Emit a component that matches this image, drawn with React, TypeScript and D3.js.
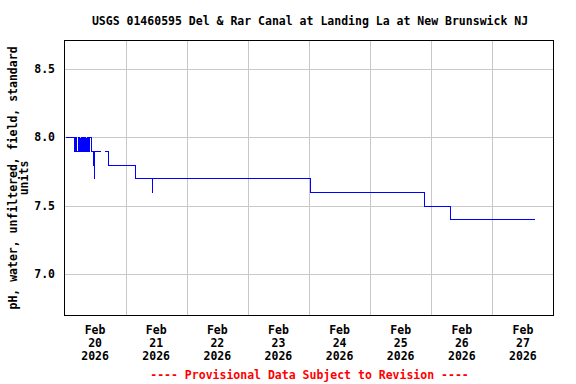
import React from "react";
import * as d3 from "d3";

const TITLE = "USGS 01460595 Del & Rar Canal at Landing La at New Brunswick NJ";
const Y_LABEL_LINES = ["pH, water, unfiltered, field, standard", "units"];
const FOOTER = "---- Provisional Data Subject to Revision ----";

const Y_TICKS = [7.0, 7.5, 8.0, 8.5];
const X_LABEL_DAYS = ["2026-02-20", "2026-02-21", "2026-02-22", "2026-02-23", "2026-02-24", "2026-02-25", "2026-02-26", "2026-02-27"];
const X_DOMAIN = ["2026-02-20T00:00", "2026-02-28T00:00"];
const Y_DOMAIN = [6.7, 8.705];

// observation times and pH values; null = gap
const OBS_TIMES = [
  "2026-02-20T00:00", "2026-02-20T03:45", "2026-02-20T04:15", "2026-02-20T04:30",
  "2026-02-20T05:15", "2026-02-20T05:30", "2026-02-20T06:00", "2026-02-20T06:15",
  "2026-02-20T06:30", "2026-02-20T06:45", "2026-02-20T07:00", "2026-02-20T07:15",
  "2026-02-20T07:45", "2026-02-20T08:00", "2026-02-20T08:15", "2026-02-20T08:30",
  "2026-02-20T09:00", "2026-02-20T09:15", "2026-02-20T09:30", "2026-02-20T10:30",
  "2026-02-20T11:15", "2026-02-20T11:30", "2026-02-20T11:45", "2026-02-20T14:00",
  "2026-02-20T14:15", "2026-02-20T15:30", "2026-02-20T17:15", "2026-02-21T03:30",
  "2026-02-21T10:15", "2026-02-21T10:30", "2026-02-24T00:15", "2026-02-25T21:00",
  "2026-02-26T07:15", "2026-02-27T16:15",
];
const PH_VALUES: (number | null)[] = [
  8.0, 7.9, 8.0, 7.9,
  8.0, 7.9, 8.0, 7.9,
  8.0, 7.9, 8.0, 7.9,
  8.0, 7.9, 8.0, 7.9,
  8.0, 7.9, 8.0, 7.9,
  7.8, 7.7, 7.9, 7.9,
  null, 7.9, 7.8, 7.7,
  7.6, 7.7, 7.6, 7.5,
  7.4, 7.4,
];

const W = 576;
const H = 384;
const PLOT = { left: 64.5, right: 553.5, top: 40.5, bottom: 315.5 };
const FONT = "'DejaVu Sans Mono', monospace";
const FS = 11.5;

const parse = (s: string) => {
  const [d, t] = s.split("T");
  const [yy, mm, dd] = d.split("-").map(Number);
  const [hh, mi] = (t || "00:00").split(":").map(Number);
  return new Date(Date.UTC(yy, mm - 1, dd, hh, mi));
};

export default function App() {
  const x = d3.scaleUtc().domain(X_DOMAIN.map(parse)).range([PLOT.left, PLOT.right]);
  const y = d3.scaleLinear().domain(Y_DOMAIN).range([PLOT.bottom, PLOT.top]);

  const data = OBS_TIMES.map((t, i) => ({ t: parse(t), v: PH_VALUES[i] }));
  const line = d3
    .line<{ t: Date; v: number | null }>()
    .defined((d) => d.v != null)
    .x((d) => Math.round(x(d.t)) + 0.5)
    .y((d) => Math.round(y(d.v as number)) + 0.5)
    .curve(d3.curveStepAfter);

  const dayGrid = d3.utcDay.range(d3.utcDay.offset(x.domain()[0], 1), x.domain()[1]);
  const fmt = d3.utcFormat("%b|%d|%Y");

  const cx = (PLOT.left + PLOT.right) / 2;
  const cy = (PLOT.top + PLOT.bottom) / 2;

  return (
    <svg
      width={W}
      height={H}
      style={{ position: "absolute", left: 0, top: 0, background: "#fff" }}
      fontFamily={FONT}
      fontWeight="bold"
      fontSize={FS}
    >
      <rect x={0} y={0} width={W} height={H} fill="#fff" />
      <text x={310} y={25} textAnchor="middle" fill="#000">{TITLE}</text>

      {/* grid */}
      <g shapeRendering="crispEdges">
        {Y_TICKS.map((v) => (
          <line key={"hy" + v} x1={PLOT.left} x2={PLOT.right} y1={Math.round(y(v)) + 0.5} y2={Math.round(y(v)) + 0.5} stroke="#c8c8c8" strokeWidth={1} />
        ))}
        {dayGrid.map((d) => (
          <line key={"vx" + d.getTime()} x1={Math.round(x(d)) + 0.5} x2={Math.round(x(d)) + 0.5} y1={PLOT.top} y2={PLOT.bottom} stroke="#c8c8c8" strokeWidth={1} />
        ))}
      </g>

      {/* data */}
      <path d={line(data) || ""} fill="none" stroke="#0000ff" strokeWidth={1} shapeRendering="crispEdges" />

      {/* frame */}
      <rect x={PLOT.left} y={PLOT.top} width={PLOT.right - PLOT.left} height={PLOT.bottom - PLOT.top} fill="none" stroke="#000" strokeWidth={1} shapeRendering="crispEdges" />

      {/* y tick labels */}
      {Y_TICKS.map((v) => (
        <text key={"ty" + v} x={55} y={y(v) + 4} textAnchor="end" fill="#000">{v.toFixed(1)}</text>
      ))}

      {/* x labels */}
      {X_LABEL_DAYS.map((s) => {
        const d = parse(s);
        const mid = x(d3.utcHour.offset(d, 12));
        const parts = fmt(d).split("|");
        return (
          <g key={"tx" + s}>
            {parts.map((p, i) => (
              <text key={i} x={mid} y={334 + i * 13} textAnchor="middle" fill="#000">{p}</text>
            ))}
          </g>
        );
      })}

      {/* y label */}
      <g transform={`translate(17, ${cy}) rotate(-90)`}>
        {Y_LABEL_LINES.map((l, i) => (
          <text key={i} x={0} y={i * 11} textAnchor="middle" fill="#000">{l}</text>
        ))}
      </g>

      <text x={cx + 0.5} y={379} textAnchor="middle" fill="#ff0000">{FOOTER}</text>
    </svg>
  );
}
